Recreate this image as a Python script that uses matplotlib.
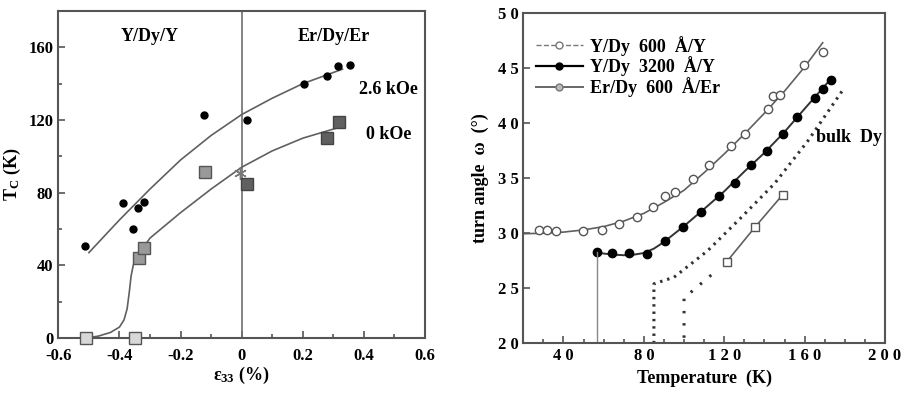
import numpy as np
import matplotlib
matplotlib.use("Agg")
import matplotlib.pyplot as plt
from matplotlib.lines import Line2D
from matplotlib.ticker import MultipleLocator

plt.rcParams['font.family'] = ['Liberation Serif', 'DejaVu Serif']
plt.rcParams['font.weight'] = 'bold'
plt.rcParams['axes.labelweight'] = 'bold'
plt.rcParams['mathtext.fontset'] = 'custom'
plt.rcParams['mathtext.rm'] = 'Liberation Serif:bold'
plt.rcParams['mathtext.it'] = 'Liberation Serif:bold'
plt.rcParams['mathtext.bf'] = 'Liberation Serif:bold'

# ---- left panel: Tc vs strain
strain_26 = [-0.513, -0.387, -0.355, -0.338, -0.320, -0.122, 0.016, 0.204, 0.278, 0.316, 0.355]
tc_26 = [50.6, 74.5, 60.0, 71.7, 74.8, 123.0, 120.0, 140.0, 144.0, 150.0, 150.4]

fit26_x = [-0.50, -0.40, -0.30, -0.20, -0.10, 0.0, 0.10, 0.20, 0.33]
fit26_y = [47, 65, 82, 98, 111.5, 123, 132, 140, 148]

sq_light_x = [-0.509, -0.349]
sq_light_y = [0.0, 0.0]
sq_mid_x = [-0.335, -0.319, -0.120]
sq_mid_y = [44.0, 49.7, 91.4]
sq_dark_x = [0.0185, 0.278, 0.320]
sq_dark_y = [84.6, 110.3, 119.0]
star_x = [-0.005]
star_y = [91.0]

fit0_x = [-0.51, -0.47, -0.43, -0.40, -0.385, -0.375, -0.368, -0.362, -0.355, -0.345,
          -0.33, -0.30, -0.20, -0.10, 0.0, 0.10, 0.20, 0.32]
fit0_y = [0, 1, 3, 6, 10, 16, 25, 34, 40, 44, 48, 55, 69, 82, 94, 103, 110, 116]

left_xticks = [-0.6, -0.4, -0.2, 0, 0.2, 0.4, 0.6]
left_xlabels = ["-0.6", "-0.4", "-0.2", "0", "0.2", "0.4", "0.6"]
left_yticks = [0, 40, 80, 120, 160]

# ---- right panel: turn angle vs temperature
t_600y = [28, 32, 36.1, 49.9, 59, 67.8, 76.4, 84.7, 90.5, 95.5, 104.6, 112.6, 123.2, 130.3,
          142, 144.4, 148, 159.7, 169.3]
w_600y = [30.25, 30.25, 30.2, 30.2, 30.3, 30.8, 31.5, 32.4, 33.4, 33.7, 34.9, 36.2, 37.9, 39.05,
          41.3, 42.5, 42.55, 45.3, 46.5]
fit600_t = [20, 30, 40, 50, 60, 70, 80, 90, 100, 110, 120, 130, 140, 150, 160, 169]
fit600_w = [29.95, 30.0, 30.1, 30.3, 30.6, 31.1, 31.8, 32.8, 33.9, 35.5, 37.2, 39.0, 40.9, 42.9, 45.1, 47.3]

t_3200 = [56.5, 64, 72.8, 81.7, 90.5, 99.3, 108.3, 117.5, 125.3, 133.1, 141.1, 149.1, 156.4,
          165.2, 169.3, 173]
w_3200 = [28.3, 28.2, 28.2, 28.15, 29.3, 30.55, 31.9, 33.35, 34.6, 36.2, 37.5, 39.05, 40.55,
          42.3, 43.1, 43.9]
fit3200_t = [56.5, 60, 65, 70, 75, 80, 85, 90, 100, 110, 120, 130, 140, 150, 160, 173]
fit3200_w = [28.3, 28.15, 28.05, 28.0, 28.05, 28.2, 28.6, 29.2, 30.65, 32.2, 33.8, 35.6, 37.3, 39.2, 41.3, 44.0]
drop3200_t = [56.5, 56.5]
drop3200_w = [20, 28.3]

t_er = [121.2, 135.3, 149.1]
w_er = [27.4, 30.55, 33.5]

bulk1_t = [85, 85, 95, 111.7, 128.3, 145, 161.7, 179]
bulk1_w = [20, 25.4, 26.0, 28.4, 31.4, 34.5, 38.4, 43.0]
bulk2_t = [100, 100, 102.5, 108.3, 114.2]
bulk2_w = [20.5, 24.2, 24.5, 25.4, 26.3]

right_yticks = [20, 25, 30, 35, 40, 45, 50]
right_ylabels = ["2 0", "2 5", "3 0", "3 5", "4 0", "4 5", "5 0"]
right_xticks = [40, 80, 120, 160, 200]
right_xlabels = ["4 0", "8 0", "1 2 0", "1 6 0", "2 0 0"]

legend_labels = ["Y/Dy  600  Å/Y", "Y/Dy  3200  Å/Y", "Er/Dy  600  Å/Er"]

line_col = "#606060"
spine_col = "#555555"

fig = plt.figure(figsize=(9.06, 3.99), dpi=100)
ax1 = fig.add_axes([0.0644, 0.1529, 0.4047, 0.8195])
ax2 = fig.add_axes([0.5776, 0.1396, 0.3992, 0.8278])

for ax in (ax1, ax2):
    for s in ax.spines.values():
        s.set_color(spine_col)
        s.set_linewidth(1.5)
    ax.tick_params(which='both', direction='in', top=False, right=False, color=spine_col,
                   labelsize=12, width=1.2)
    ax.tick_params(which='major', length=5)
    ax.tick_params(which='minor', length=3)

# left
ax1.axvline(0, color="#707070", lw=1.2)
ax1.plot(fit26_x, fit26_y, color=line_col, lw=1.2)
ax1.plot(fit0_x, fit0_y, color=line_col, lw=1.2)
ax1.plot(strain_26, tc_26, 'o', color='black', ms=5)
ax1.plot(sq_light_x, sq_light_y, 's', mfc='#d8d8d8', mec='#555555', ms=9, clip_on=False, zorder=5)
ax1.plot(sq_mid_x, sq_mid_y, 's', mfc='#999999', mec='#555555', ms=9, zorder=5)
ax1.plot(sq_dark_x, sq_dark_y, 's', mfc='#606060', mec='#444444', ms=9, zorder=5)
ax1.plot(star_x, star_y, marker=(6, 2, 0), color='#777777', ms=9, ls='none')
ax1.set_xlim(-0.6, 0.6)
ax1.set_ylim(0, 180)
ax1.xaxis.set_minor_locator(MultipleLocator(0.1))
ax1.yaxis.set_minor_locator(MultipleLocator(20))
ax1.set_xticks(left_xticks)
ax1.set_xticklabels(left_xlabels, fontweight='bold')
ax1.set_yticks(left_yticks)
ax1.set_yticklabels([str(v) for v in left_yticks], fontweight='bold')
ax1.tick_params(axis='x', pad=7)
ax1.set_xlabel(r"$\varepsilon_{33}$ (%)", fontsize=13, labelpad=1)
ax1.set_ylabel(r"T$_\mathregular{C}$ (K)", fontsize=13, labelpad=4)
ax1.text(-0.3, 166, "Y/Dy/Y", ha='center', va='center', fontsize=13)
ax1.text(0.3, 166, "Er/Dy/Er", ha='center', va='center', fontsize=13)
ax1.text(0.48, 137, "2.6 kOe", ha='center', va='center', fontsize=13)
ax1.text(0.48, 112, "0 kOe", ha='center', va='center', fontsize=13)

# right
ax2.plot(fit600_t, fit600_w, color=line_col, lw=1.2)
ax2.plot(t_600y, w_600y, 'o', mfc='white', mec='#555555', ms=6)
ax2.plot(fit3200_t, fit3200_w, color='#333333', lw=1.4)
ax2.plot(t_3200, w_3200, 'o', color='black', ms=6)
ax2.plot(drop3200_t, drop3200_w, color='#888888', lw=1.0)
ax2.plot(t_er, w_er, color=line_col, lw=1.2)
ax2.plot(t_er, w_er, 's', mfc='white', mec='#555555', ms=6)
ax2.plot(bulk1_t, bulk1_w, color='#333333', lw=2.2, ls=(0, (0.8, 1.6)))
ax2.plot(bulk2_t, bulk2_w, color='#333333', lw=2.2, ls=(0, (0.8, 3.2)))
ax2.set_xlim(20, 200)
ax2.set_ylim(20, 50)
ax2.set_xticks(right_xticks)
ax2.set_xticklabels(right_xlabels, fontweight='bold')
ax2.xaxis.set_minor_locator(MultipleLocator(10))
ax2.set_yticks(right_yticks)
ax2.set_yticklabels(right_ylabels, fontweight='bold')
ax2.set_xlabel("Temperature  (K)", fontsize=13, labelpad=4)
ax2.set_ylabel("turn angle  ω  (°)", fontsize=13, labelpad=6)
ax2.text(182, 38.7, "bulk  Dy", ha='center', va='center', fontsize=13)

handles = [
    Line2D([], [], color='#777777', lw=1.0, ls='--', marker='o', mfc='white', mec='#777777', ms=5),
    Line2D([], [], color='black', lw=1.6, marker='o', ms=5),
    Line2D([], [], color='#666666', lw=1.4, marker='o', mfc='#bbbbbb', mec='#777777', ms=5),
]
ax2.legend(handles, legend_labels, loc='upper left', frameon=False, fontsize=13, handlelength=2.6,
           handletextpad=0.4, labelspacing=0.05, borderaxespad=0.3,
           bbox_to_anchor=(0.0, 0.97))

fig.savefig("out.png", dpi=100)
